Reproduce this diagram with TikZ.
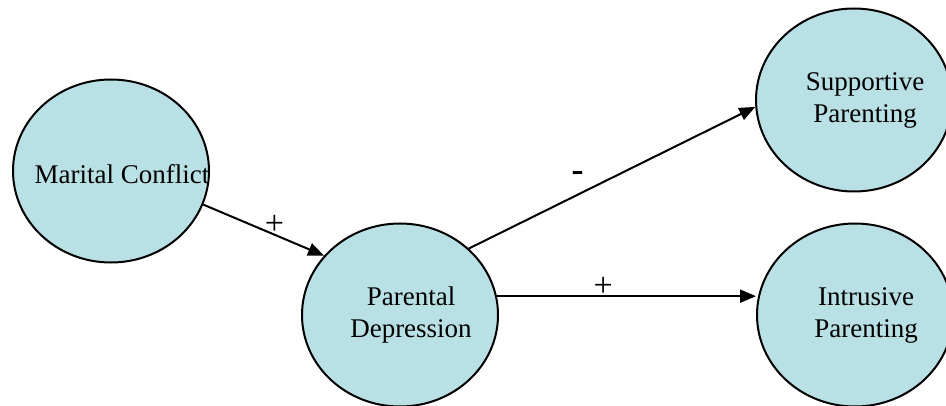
\documentclass[tikz,border=0pt]{standalone}
\usepackage{fontspec}
\setmainfont{Liberation Serif}
\usetikzlibrary{shapes.geometric,arrows.meta}

\definecolor{ovalfill}{RGB}{185,224,228}
% text sits a little right of the oval centre
\newcommand{\ovaltext}[1]{\makebox[0pt]{\kern11pt\begin{tabular}{@{}c@{}}#1\end{tabular}}}

\begin{document}
\begin{tikzpicture}[x=0.5pt,y=-0.5pt,
  factor/.style={ellipse,draw=black,line width=1pt,fill=ovalfill,
    minimum width=98pt,minimum height=91.5pt,inner sep=0pt,
    font=\fontsize{13.5}{16}\selectfont},
  link/.style={line width=1pt,-{Triangle[length=8pt,width=6.5pt]}},
  sign/.style={inner sep=0pt,font=\fontsize{17}{17}\selectfont}]
  \useasboundingbox (0,0) rectangle (946,406);

  \node[factor] (mc) at (111,171) {\ovaltext{\raisebox{-3pt}{Marital Conflict}}};
  \node[factor] (pd) at (400,315) {\ovaltext{Parental\\Depression}};
  \node[factor] (sp) at (854,100) {\ovaltext{Supportive\\Parenting}};
  \node[factor] (ip) at (855,315) {\ovaltext{Intrusive\\Parenting}};

  \draw[link] (mc.-20) -- (pd.142) node[sign,pos=0.59,yshift=4.75pt] (s1) {+};
  \draw[link] (pd.44) -- (sp.184)
    node[sign,pos=0.38,yshift=9pt,font=\fontsize{18}{18}\bfseries] (s2) {-};
  \draw[link] (pd.11) -- (pd.11 -| ip.west) node[sign,pos=0.41,yshift=4.5pt] (s3) {+};
\end{tikzpicture}
\end{document}
